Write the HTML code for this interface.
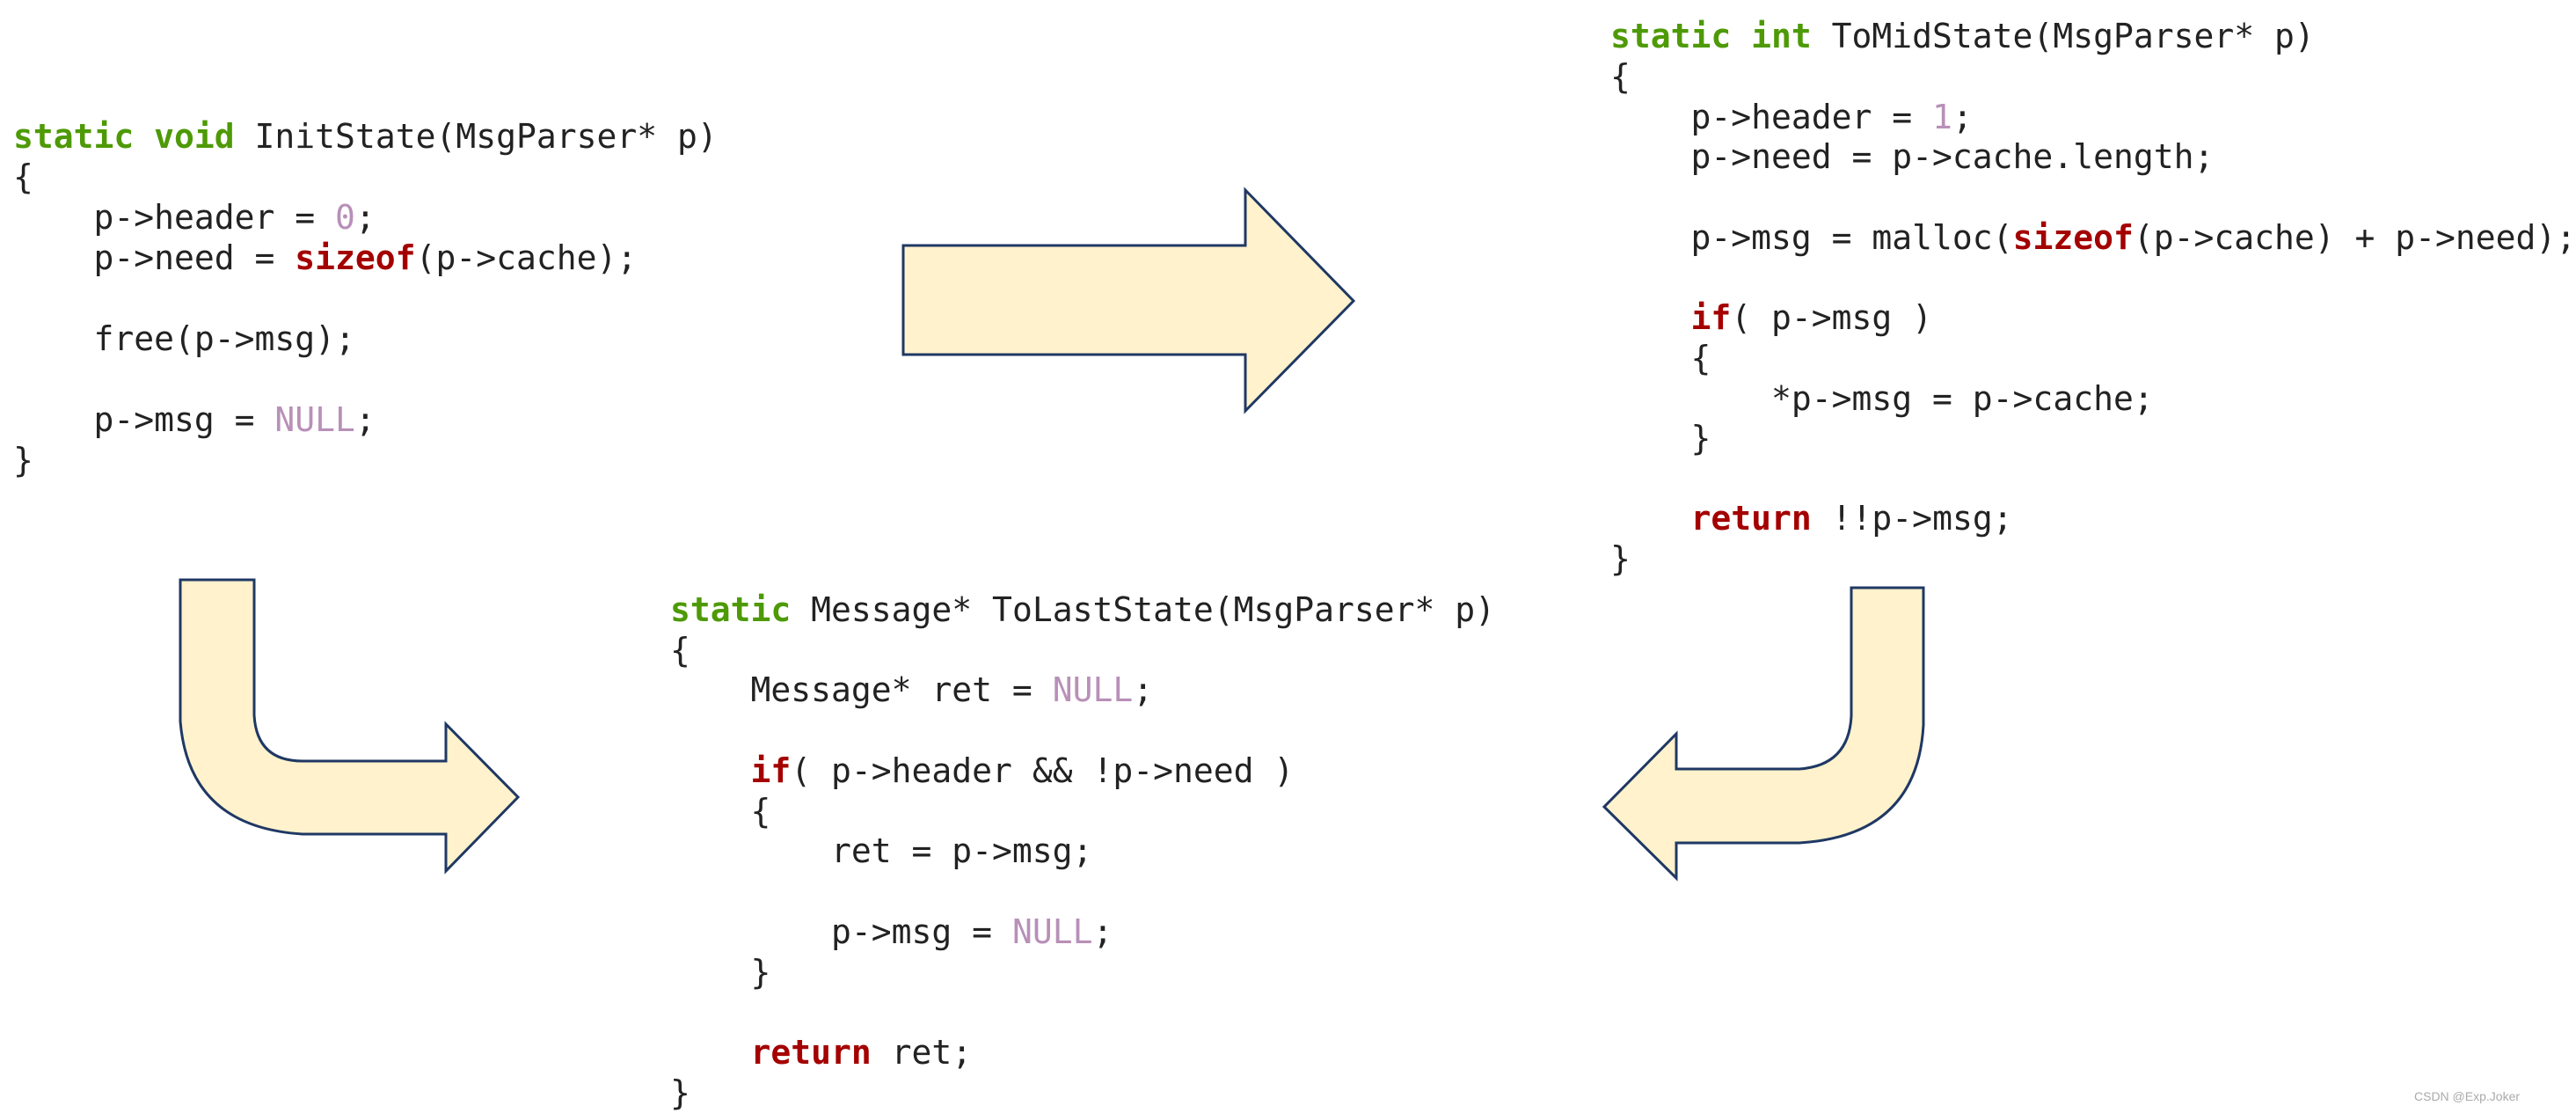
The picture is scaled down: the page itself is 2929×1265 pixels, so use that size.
<!DOCTYPE html>
<html><head><meta charset="utf-8"><style>
html,body{margin:0;padding:0;background:#fff;}
svg{display:block;}
text{font-family:"DejaVu Sans Mono","Liberation Mono",monospace;font-size:38px;fill:#222;white-space:pre;}
.k{fill:#4e9a06;font-weight:bold;}
.r{fill:#a40000;font-weight:bold;}
.n{fill:#b890b8;}
</style></head><body>
<svg width="2929" height="1265" viewBox="0 0 2929 1265" xmlns="http://www.w3.org/2000/svg">
<g fill="#fff2cc" stroke="#1f3864" stroke-width="3" stroke-linejoin="miter">
<path d="M1027 279 L1416 279 L1416 216 L1539 342 L1416 467 L1416 403 L1027 403 Z"/>
<path d="M205 659 L289 659 L289 813 Q292 865 344 865 L507 865 L507 823 L589 906 L507 990 L507 948 L344 948 Q215 940 205 820 Z"/>
<path d="M2105 668 L2187 668 L2187 824 Q2180 950 2046 958 L1906 958 L1906 998 L1824 917 L1906 834 L1906 874 L2046 874 Q2102 870 2105 814 Z"/>
</g>
<g xml:space="preserve">
<text x="15" y="168"><tspan class="k">static void</tspan> InitState(MsgParser* p)</text>
<text x="15" y="214">{</text>
<text x="15" y="260">    p-&gt;header = <tspan class="n">0</tspan>;</text>
<text x="15" y="306">    p-&gt;need = <tspan class="r">sizeof</tspan>(p-&gt;cache);</text>
<text x="15" y="398">    free(p-&gt;msg);</text>
<text x="15" y="490">    p-&gt;msg = <tspan class="n">NULL</tspan>;</text>
<text x="15" y="536">}</text>

<text x="1831" y="54"><tspan class="k">static int</tspan> ToMidState(MsgParser* p)</text>
<text x="1831" y="100">{</text>
<text x="1831" y="146">    p-&gt;header = <tspan class="n">1</tspan>;</text>
<text x="1831" y="191">    p-&gt;need = p-&gt;cache.length;</text>
<text x="1831" y="283">    p-&gt;msg = malloc(<tspan class="r">sizeof</tspan>(p-&gt;cache) + p-&gt;need);</text>
<text x="1831" y="374">    <tspan class="r">if</tspan>( p-&gt;msg )</text>
<text x="1831" y="420">    {</text>
<text x="1831" y="466">        *p-&gt;msg = p-&gt;cache;</text>
<text x="1831" y="511">    }</text>
<text x="1831" y="602">    <tspan class="r">return</tspan> !!p-&gt;msg;</text>
<text x="1831" y="648">}</text>

<text x="762" y="706"><tspan class="k">static</tspan> Message* ToLastState(MsgParser* p)</text>
<text x="762" y="752">{</text>
<text x="762" y="797">    Message* ret = <tspan class="n">NULL</tspan>;</text>
<text x="762" y="889">    <tspan class="r">if</tspan>( p-&gt;header &amp;&amp; !p-&gt;need )</text>
<text x="762" y="935">    {</text>
<text x="762" y="980">        ret = p-&gt;msg;</text>
<text x="762" y="1072">        p-&gt;msg = <tspan class="n">NULL</tspan>;</text>
<text x="762" y="1118">    }</text>
<text x="762" y="1209">    <tspan class="r">return</tspan> ret;</text>
<text x="762" y="1255">}</text>
</g>
<text x="2745" y="1251" style="font-family:'Liberation Sans',sans-serif;font-size:14px;fill:#aaa;">CSDN @Exp.Joker</text>
</svg>
</body></html>
